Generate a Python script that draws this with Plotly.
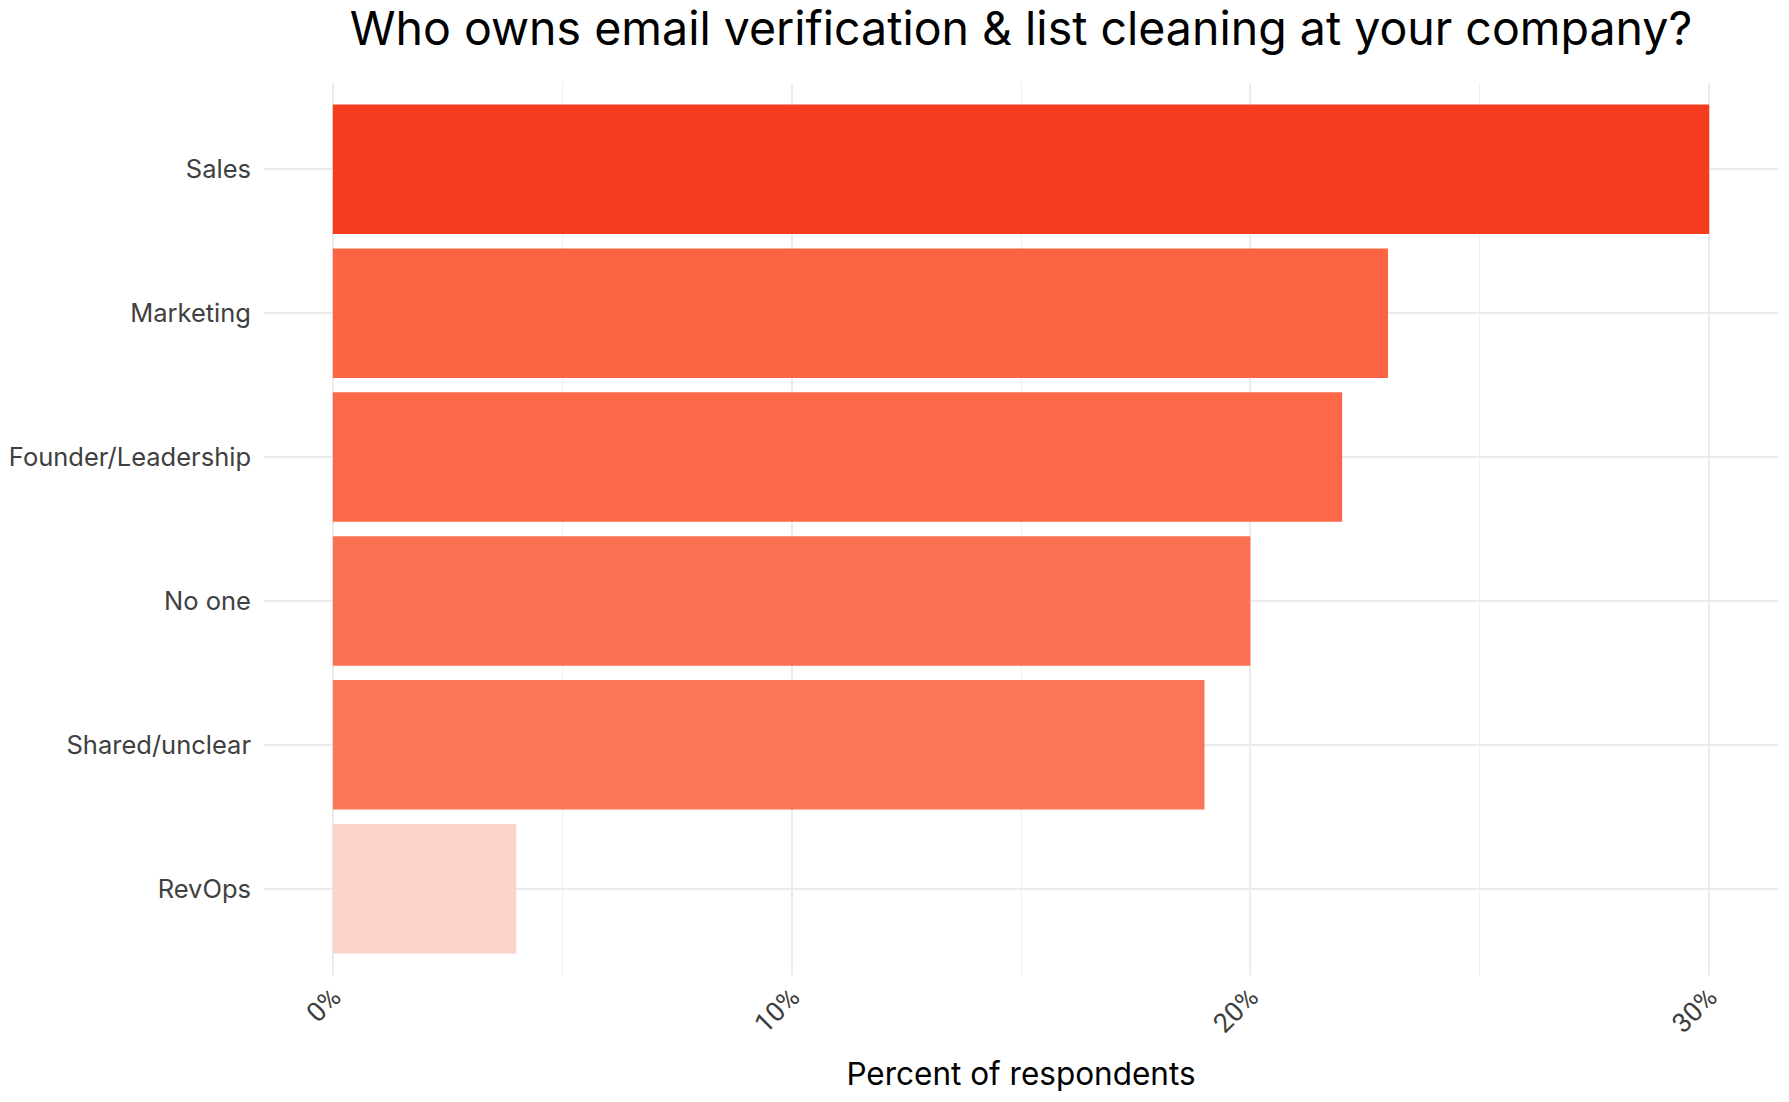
import plotly.graph_objects as go

categories = ["Sales", "Marketing", "Founder/Leadership", "No one", "Shared/unclear", "RevOps"]
percents = [30.0, 23.0, 22.0, 20.0, 19.0, 4.0]
bar_colors = ["#F53C1E", "#FD6443", "#FD6848", "#FC7052", "#FC7659", "#FCD3C7"]
x_tick_values = [0, 10, 20, 30]
x_tick_labels = ["0%", "10%", "20%", "30%"]

title_text = "Who owns email verification & list cleaning at your company?"
x_title = "Percent of respondents"

W, H = 1781, 1094

fig = go.Figure()
fig.add_trace(go.Bar(
    x=percents,
    y=categories,
    orientation="h",
    width=0.9,
    marker=dict(color=bar_colors, line=dict(width=0)),
    hoverinfo="x+y",
))

fig.update_layout(
    width=W,
    height=H,
    autosize=False,
    paper_bgcolor="white",
    plot_bgcolor="white",
    margin=dict(l=256, r=11, t=75, b=127),
    showlegend=False,
    bargap=0.1,
    font=dict(family="Inter, Roboto, sans-serif", color="#404040"),
    title=dict(
        text=title_text,
        x=0.5,
        xref="paper",
        xanchor="center",
        y=1 - 4 / H,
        yref="container",
        yanchor="top",
        font=dict(family="Inter, Roboto, sans-serif", size=46.5, color="#000000"),
    ),
)

fig.update_xaxes(
    automargin=False,
    range=[-1.5, 31.5],
    tickmode="array",
    tickvals=x_tick_values,
    ticktext=x_tick_labels,
    tickangle=-45,
    tickfont=dict(family="Roboto, sans-serif", size=27, color="#3D3D3D"),
    showgrid=True,
    gridcolor="#EBEBEB",
    gridwidth=2,
    zeroline=False,
    showline=False,
    ticks="",
    minor=dict(dtick=5, tick0=0, showgrid=True, gridcolor="#EFEFEF", gridwidth=1),
    title=dict(text=x_title, font=dict(family="Inter, Roboto, sans-serif", size=31.5, color="#000000"), standoff=24),
)

fig.update_yaxes(
    automargin=False,
    categoryorder="array",
    categoryarray=categories,
    range=[5.6, -0.6],
    showgrid=True,
    gridcolor="#EBEBEB",
    gridwidth=2,
    zeroline=False,
    showline=False,
    ticks="",
    ticklabelstandoff=12,
    tickfont=dict(family="Inter, Roboto, sans-serif", size=25.5, color="#404040"),
)

fig.write_html("out.html")
